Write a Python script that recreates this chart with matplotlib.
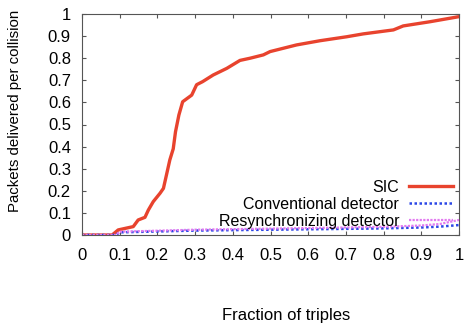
import numpy as np
import matplotlib.pyplot as plt

plt.rcParams['font.family'] = ['Liberation Sans', 'DejaVu Sans']

# SIC curve
sic_x = [0.0, 0.08, 0.096, 0.136, 0.149, 0.167, 0.176, 0.189, 0.207, 0.216,
         0.225, 0.233, 0.242, 0.248, 0.257, 0.267, 0.291, 0.304, 0.32, 0.348,
         0.384, 0.419, 0.446, 0.481, 0.499, 0.534, 0.569, 0.631, 0.702, 0.746,
         0.826, 0.852, 0.923, 1.0]
sic_y = [0.0, 0.0, 0.023, 0.038, 0.068, 0.08, 0.113, 0.151, 0.189, 0.211,
         0.279, 0.34, 0.39, 0.467, 0.543, 0.603, 0.633, 0.68, 0.694, 0.724,
         0.754, 0.79, 0.80, 0.815, 0.83, 0.845, 0.86, 0.879, 0.897, 0.91,
         0.928, 0.946, 0.965, 0.988]

conv_x = [0.0, 0.09, 0.1, 0.3, 0.5, 0.66, 0.8, 0.9, 0.95, 1.0]
conv_y = [0.0, 0.0, 0.012, 0.02, 0.024, 0.027, 0.03, 0.034, 0.038, 0.045]

resync_x = [0.0, 0.09, 0.1, 0.3, 0.5, 0.66, 0.8, 0.9, 0.95, 1.0]
resync_y = [0.0, 0.0, 0.015, 0.024, 0.029, 0.033, 0.037, 0.043, 0.05, 0.068]

x_ticks = [0, 0.1, 0.2, 0.3, 0.4, 0.5, 0.6, 0.7, 0.8, 0.9, 1]
y_ticks = [0, 0.1, 0.2, 0.3, 0.4, 0.5, 0.6, 0.7, 0.8, 0.9, 1]
tick_labels = ['0', '0.1', '0.2', '0.3', '0.4', '0.5', '0.6', '0.7', '0.8', '0.9', '1']

fig = plt.figure(figsize=(4.66, 3.24), dpi=100)
ax = fig.add_axes([82/466, 1 - 235/324, 377/466, 221/324])

ax.plot(sic_x, sic_y, color='#e8432e', linewidth=2.4, label='SIC')
ax.plot(conv_x, conv_y, color='#2a46e6', linewidth=1.8, linestyle=(0, (1, 1)),
        label='Conventional detector')
ax.plot(resync_x, resync_y, color='#e27af0', linewidth=1.6, linestyle=(0, (1, 0.6)),
        label='Resynchronizing detector')

ax.set_xlim(0, 1)
ax.set_ylim(0, 1)
ax.set_xticks(x_ticks)
ax.set_xticklabels(tick_labels)
ax.set_yticks(y_ticks)
ax.set_yticklabels(tick_labels)
ax.tick_params(direction='in', length=3, width=0.8, color='#555555',
               top=True, right=True, labelsize=12)
ax.tick_params(axis='x', pad=9)
ax.tick_params(axis='y', pad=8)
for s in ax.spines.values():
    s.set_color('#555555')
    s.set_linewidth(0.8)

ax.set_xlabel('Fraction of triples', fontsize=12)
ax.xaxis.set_label_coords(0.541, -0.33)
ax.set_ylabel('Packets delivered per collision', fontsize=10.8)
ax.yaxis.set_label_coords(-0.16, 0.56)

leg = ax.legend(loc='lower right', bbox_to_anchor=(1.0, 0.003), frameon=False,
                fontsize=11.5, markerfirst=False, handlelength=2.8,
                labelspacing=0.12, borderaxespad=0.25, borderpad=0.1,
                handletextpad=0.6)
for t in leg.get_texts():
    t.set_horizontalalignment('right')

fig.savefig('out.png', dpi=100)
